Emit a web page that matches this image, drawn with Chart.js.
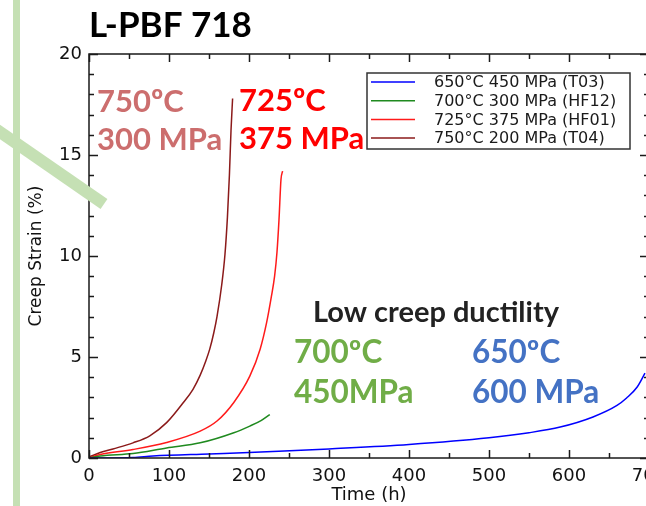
<!DOCTYPE html>
<html>
<head>
<meta charset="utf-8">
<title>L-PBF 718 creep</title>
<script src="https://cdn.jsdelivr.net/npm/chart.js@4.4.1/dist/chart.umd.min.js"></script>
<style>
  html, body { margin: 0; padding: 0; background: #fff; overflow: hidden; }
  #wrap { position: relative; width: 646px; height: 506px; overflow: hidden; }
  canvas { display: block; }
</style>
</head>
<body>
<div id="wrap"><canvas id="creepChart" width="690" height="506"></canvas></div>
<script>
// creep curves, time in hours / strain in %
const seriesNames = ['650°C 450 MPa (T03)', '700°C 300 MPa (HF12)', '725°C 375 MPa (HF01)', '750°C 200 MPa (T04)'];

const hoursT03  = [0, 55, 80, 150, 200, 237, 300, 400, 500, 550, 589, 630, 660, 672, 685, 695];
const strainT03 = [0, 0.03, 0.1, 0.2, 0.27, 0.33, 0.45, 0.67, 1.0, 1.25, 1.53, 2.03, 2.6, 2.97, 3.5, 4.2];

const hoursHF12  = [0, 14, 55, 97, 139, 181, 201, 215, 226];
const strainHF12 = [0, 0.1, 0.22, 0.5, 0.75, 1.25, 1.58, 1.85, 2.15];

const hoursHF01  = [0, 14, 55, 97, 139, 160, 181, 201, 214, 222, 228, 232, 235, 237.5, 240, 242];
const strainHF01 = [0, 0.17, 0.42, 0.77, 1.33, 1.83, 2.75, 4.05, 5.4, 6.7, 8.0, 9.0, 10.2, 11.8, 13.8, 14.2];

const hoursT04  = [0, 14, 30, 55, 76, 97, 118, 130, 139, 146, 151, 156, 160, 166, 170, 173, 175.5, 177.5, 179.5];
const strainT04 = [0.05, 0.27, 0.45, 0.75, 1.1, 1.75, 2.75, 3.4, 4.1, 4.8, 5.4, 6.2, 7.0, 8.6, 10.1, 11.9, 14.0, 16.2, 17.8];

const xTicks = [0, 100, 200, 300, 400, 500, 600, 700];
const yTicks = [0, 5, 10, 15, 20];

const lineColors = ['#0000ff', '#1f8a1f', '#ff1a1a', '#8b1a1a'];

function pts(xs, ys) {
  return xs.map((x, i) => ({ x: x, y: ys[i] }));
}

// text laid over the plot
const notes = [
  { text: 'L-PBF 718', x: 89, y: 37, color: '#000', size: 35 },
  { text: '750ºC', x: 97, y: 112, color: '#cc6e6e', size: 31 },
  { text: '300 MPa', x: 97, y: 150, color: '#cc6e6e', size: 31 },
  { text: '725ºC', x: 239, y: 111, color: '#ff0000', size: 31 },
  { text: '375 MPa', x: 239, y: 149, color: '#ff0000', size: 31 },
  { text: 'Low creep ductility', x: 313, y: 322, color: '#222', size: 29 },
  { text: '700ºC', x: 294, y: 363, color: '#70ad47', size: 31.5 },
  { text: '450MPa', x: 294, y: 403, color: '#70ad47', size: 31.5 },
  { text: '650ºC', x: 472, y: 363, color: '#4472c4', size: 31.5 },
  { text: '600 MPa', x: 472, y: 403, color: '#4472c4', size: 31.5 }
];

const framePlugin = {
  id: 'frame',
  afterDraw(chart) {
    const ctx = chart.ctx;
    const a = chart.chartArea;
    const xs = chart.scales.x, ys = chart.scales.y;
    ctx.save();

    // box + inward ticks on all four sides
    ctx.strokeStyle = '#1a1a1a';
    ctx.lineWidth = 1.5;
    ctx.strokeRect(a.left, a.top, a.right - a.left, a.bottom - a.top);
    ctx.beginPath();
    for (let v = 0; v <= 700; v += 50) {
      const px = Math.round(xs.getPixelForValue(v)) + 0.5;
      const len = v % 100 === 0 ? 8 : 5;
      ctx.moveTo(px, a.bottom); ctx.lineTo(px, a.bottom - len);
      ctx.moveTo(px, a.top); ctx.lineTo(px, a.top + len);
    }
    for (let v = 0; v <= 20; v += 1) {
      const py = Math.round(ys.getPixelForValue(v)) + 0.5;
      const len = v % 5 === 0 ? 9 : 5;
      ctx.moveTo(a.left, py); ctx.lineTo(a.left + len, py);
      ctx.moveTo(a.right, py); ctx.lineTo(a.right - len, py);
    }
    ctx.stroke();

    // legend box
    const lx = 367, ly = 73, lw = 263, lh = 76;
    ctx.fillStyle = '#fff';
    ctx.fillRect(lx, ly, lw, lh);
    ctx.lineWidth = 1.5;
    ctx.strokeStyle = '#333';
    ctx.strokeRect(lx, ly, lw, lh);
    ctx.font = '16px "DejaVu Sans"';
    ctx.textBaseline = 'middle';
    chart.data.datasets.forEach((ds, i) => {
      const ry = 82 + i * 18.7;
      ctx.strokeStyle = ds.borderColor;
      ctx.lineWidth = 1.5;
      ctx.beginPath();
      ctx.moveTo(371, ry); ctx.lineTo(415, ry);
      ctx.stroke();
      ctx.fillStyle = '#1a1a1a';
      ctx.fillText(ds.label, 434, ry + 1);
    });

    // notes
    ctx.textBaseline = 'alphabetic';
    notes.forEach(n => {
      ctx.font = 'bold ' + n.size + 'px Lato';
      ctx.fillStyle = n.color;
      ctx.fillText(n.text, n.x, n.y);
    });

    // green strokes
    ctx.fillStyle = '#c5e0b4';
    ctx.fillRect(13, 0, 7, 506);
    ctx.strokeStyle = '#c5e0b4';
    ctx.lineWidth = 12;
    ctx.lineCap = 'butt';
    ctx.beginPath();
    ctx.moveTo(-10, 125);
    ctx.lineTo(104, 204);
    ctx.stroke();

    ctx.restore();
  }
};

const tickFont = { family: 'DejaVu Sans', size: 18 };

new Chart(document.getElementById('creepChart'), {
  type: 'line',
  data: {
    datasets: [
      { label: seriesNames[0], data: pts(hoursT03, strainT03), borderColor: lineColors[0] },
      { label: seriesNames[1], data: pts(hoursHF12, strainHF12), borderColor: lineColors[1] },
      { label: seriesNames[2], data: pts(hoursHF01, strainHF01), borderColor: lineColors[2] },
      { label: seriesNames[3], data: pts(hoursT04, strainT04), borderColor: lineColors[3] }
    ]
  },
  options: {
    responsive: false,
    animation: false,
    devicePixelRatio: 1,
    layout: { padding: { top: 54, right: 41, left: 0, bottom: 0 } },
    elements: {
      point: { radius: 0 },
      line: { borderWidth: 1.5, cubicInterpolationMode: 'monotone', fill: false }
    },
    plugins: {
      legend: { display: false },
      tooltip: { enabled: false }
    },
    scales: {
      x: {
        type: 'linear',
        min: 0, max: 700,
        afterFit: s => { s.height = 48; },
        afterBuildTicks: s => { s.ticks = xTicks.map(v => ({ value: v })); },
        grid: { display: false, drawTicks: false },
        border: { display: false },
        ticks: { font: tickFont, color: '#111', padding: 8, maxRotation: 0 },
        title: { display: true, text: 'Time (h)', font: { family: 'DejaVu Sans', size: 18 }, color: '#111', padding: { top: 0, bottom: 0 } }
      },
      y: {
        type: 'linear',
        min: 0, max: 20,
        afterFit: s => { s.width = 89; },
        afterBuildTicks: s => { s.ticks = yTicks.map(v => ({ value: v })); },
        grid: { display: false, drawTicks: false },
        border: { display: false },
        ticks: { font: tickFont, color: '#111', padding: 7 },
        title: { display: true, text: 'Creep Strain (%)', font: { family: 'DejaVu Sans', size: 17 }, color: '#111', padding: { top: 26, bottom: 0 } }
      }
    }
  },
  plugins: [framePlugin]
});
</script>
</body>
</html>
